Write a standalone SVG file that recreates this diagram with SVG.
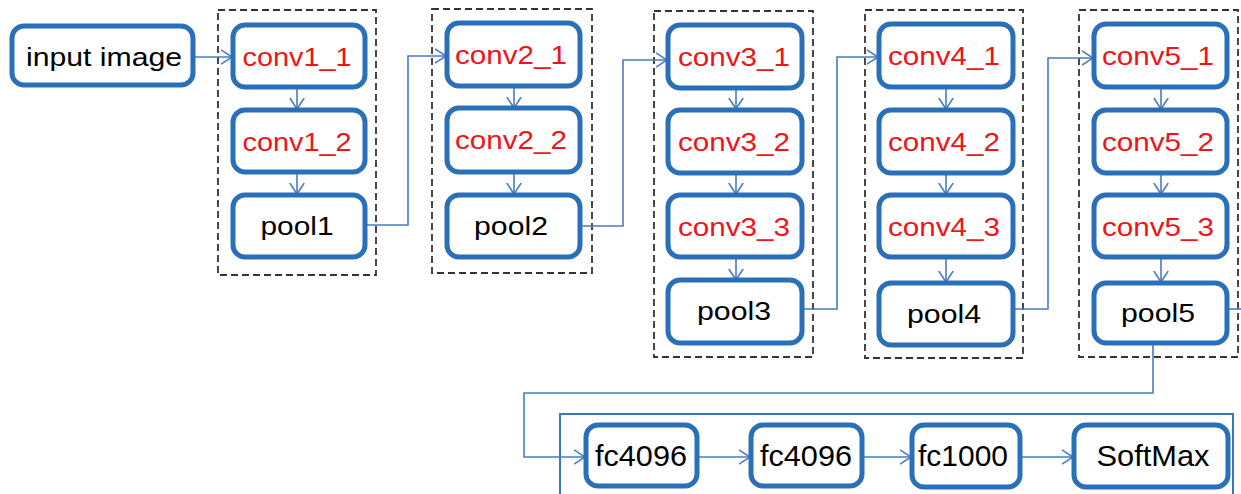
<svg xmlns="http://www.w3.org/2000/svg" width="1241" height="494" viewBox="0 0 1241 494">
  <defs>
    <style>
      .node { fill: #ffffff; stroke: #2a70b8; stroke-width: 5; }
      .group { fill: none; stroke: #333333; stroke-width: 1.8; stroke-dasharray: 7 4; }
      .wire { fill: none; stroke: #4a7cc0; stroke-width: 1.6; }
      .frame { fill: none; stroke: #3d74c4; stroke-width: 2; }
      .lbl { font-family: "Liberation Sans", Arial, sans-serif; font-size: 25px; text-anchor: middle; }
      .fc { font-family: "Liberation Sans", Arial, sans-serif; font-size: 30px; text-anchor: middle; fill: #000000; }
      .red { fill: #f01418; }
      .blk { fill: #000000; }
    </style>
    <marker id="arrow" viewBox="0 0 12 16" refX="11.5" refY="8" markerWidth="12" markerHeight="16" markerUnits="userSpaceOnUse" orient="auto">
      <path d="M0.5,0.8 L11.5,8 L0.5,15.2" fill="none" stroke="#4a7cc0" stroke-width="1.6"/>
    </marker>
  </defs>

  <rect width="1241" height="494" fill="#ffffff"/>

  <!-- dashed stage groups -->
  <g id="stages">
    <rect class="group" x="218" y="10" width="158" height="265"/>
    <rect class="group" x="432" y="9" width="160" height="264"/>
    <rect class="group" x="654" y="11" width="159" height="346"/>
    <rect class="group" x="865" y="10" width="158" height="348"/>
    <rect class="group" x="1079" y="10" width="159" height="347"/>
  </g>

  <!-- frame around the classifier row -->
  <rect id="fc-frame" class="frame" x="560" y="414" width="673" height="100"/>

  <!-- connectors -->
  <g id="connectors">
    <path class="wire" d="M193,57 H232" marker-end="url(#arrow)"/>
    <path class="wire" d="M297,88 V109" marker-end="url(#arrow)"/>
    <path class="wire" d="M297,173 V194" marker-end="url(#arrow)"/>
    <path class="wire" d="M365,225 H408 V56 H446" marker-end="url(#arrow)"/>

    <path class="wire" d="M514,87 V108" marker-end="url(#arrow)"/>
    <path class="wire" d="M514,173 V194" marker-end="url(#arrow)"/>
    <path class="wire" d="M580,226 H623 V60 H667" marker-end="url(#arrow)"/>

    <path class="wire" d="M736,89 V109" marker-end="url(#arrow)"/>
    <path class="wire" d="M736,174 V194" marker-end="url(#arrow)"/>
    <path class="wire" d="M736,258 V280" marker-end="url(#arrow)"/>
    <path class="wire" d="M802,309 H837 V57 H878" marker-end="url(#arrow)"/>

    <path class="wire" d="M946,88 V109" marker-end="url(#arrow)"/>
    <path class="wire" d="M946,174 V194" marker-end="url(#arrow)"/>
    <path class="wire" d="M946,258 V282" marker-end="url(#arrow)"/>
    <path class="wire" d="M1013,309 H1048 V58 H1093" marker-end="url(#arrow)"/>

    <path class="wire" d="M1161,88 V109" marker-end="url(#arrow)"/>
    <path class="wire" d="M1161,174 V194" marker-end="url(#arrow)"/>
    <path class="wire" d="M1161,258 V282" marker-end="url(#arrow)"/>
    <path class="wire" d="M1227,309 H1241"/>

    <path class="wire" d="M1153,344 V393 H524 V457 H585" marker-end="url(#arrow)"/>
    <path class="wire" d="M697,457 H750" marker-end="url(#arrow)"/>
    <path class="wire" d="M862,457 H911" marker-end="url(#arrow)"/>
    <path class="wire" d="M1020,457 H1073" marker-end="url(#arrow)"/>
  </g>

  <!-- input -->
  <g id="input-image">
    <rect class="node" x="12" y="26" width="181" height="59" rx="12"/>
    <text class="lbl blk" x="104" y="66" textLength="156" lengthAdjust="spacingAndGlyphs">input image</text>
  </g>

  <!-- stage 1 -->
  <g id="conv1_1">
    <rect class="node" x="233" y="25" width="132" height="62" rx="12"/>
    <text class="lbl red" x="297" y="66" textLength="109" lengthAdjust="spacingAndGlyphs">conv1_1</text>
  </g>
  <g id="conv1_2">
    <rect class="node" x="233" y="110" width="132" height="62" rx="12"/>
    <text class="lbl red" x="297" y="151" textLength="109" lengthAdjust="spacingAndGlyphs">conv1_2</text>
  </g>
  <g id="pool1">
    <rect class="node" x="233" y="195" width="132" height="62" rx="12"/>
    <text class="lbl blk" x="297" y="235" textLength="73" lengthAdjust="spacingAndGlyphs">pool1</text>
  </g>

  <!-- stage 2 -->
  <g id="conv2_1">
    <rect class="node" x="447" y="23" width="133" height="63" rx="12"/>
    <text class="lbl red" x="511" y="64" textLength="112" lengthAdjust="spacingAndGlyphs">conv2_1</text>
  </g>
  <g id="conv2_2">
    <rect class="node" x="447" y="108" width="133" height="64" rx="12"/>
    <text class="lbl red" x="511" y="149" textLength="112" lengthAdjust="spacingAndGlyphs">conv2_2</text>
  </g>
  <g id="pool2">
    <rect class="node" x="447" y="195" width="133" height="62" rx="12"/>
    <text class="lbl blk" x="511" y="235" textLength="74" lengthAdjust="spacingAndGlyphs">pool2</text>
  </g>

  <!-- stage 3 -->
  <g id="conv3_1">
    <rect class="node" x="668" y="25" width="134" height="63" rx="12"/>
    <text class="lbl red" x="734" y="66" textLength="112" lengthAdjust="spacingAndGlyphs">conv3_1</text>
  </g>
  <g id="conv3_2">
    <rect class="node" x="668" y="110" width="134" height="63" rx="12"/>
    <text class="lbl red" x="734" y="151" textLength="112" lengthAdjust="spacingAndGlyphs">conv3_2</text>
  </g>
  <g id="conv3_3">
    <rect class="node" x="668" y="195" width="134" height="62" rx="12"/>
    <text class="lbl red" x="734" y="236" textLength="112" lengthAdjust="spacingAndGlyphs">conv3_3</text>
  </g>
  <g id="pool3">
    <rect class="node" x="668" y="280" width="134" height="63" rx="12"/>
    <text class="lbl blk" x="734" y="320" textLength="74" lengthAdjust="spacingAndGlyphs">pool3</text>
  </g>

  <!-- stage 4 -->
  <g id="conv4_1">
    <rect class="node" x="879" y="24" width="134" height="63" rx="12"/>
    <text class="lbl red" x="944" y="65" textLength="112" lengthAdjust="spacingAndGlyphs">conv4_1</text>
  </g>
  <g id="conv4_2">
    <rect class="node" x="879" y="110" width="134" height="63" rx="12"/>
    <text class="lbl red" x="944" y="151" textLength="112" lengthAdjust="spacingAndGlyphs">conv4_2</text>
  </g>
  <g id="conv4_3">
    <rect class="node" x="879" y="195" width="134" height="62" rx="12"/>
    <text class="lbl red" x="944" y="236" textLength="112" lengthAdjust="spacingAndGlyphs">conv4_3</text>
  </g>
  <g id="pool4">
    <rect class="node" x="879" y="283" width="134" height="62" rx="12"/>
    <text class="lbl blk" x="944" y="323" textLength="74" lengthAdjust="spacingAndGlyphs">pool4</text>
  </g>

  <!-- stage 5 -->
  <g id="conv5_1">
    <rect class="node" x="1094" y="24" width="133" height="63" rx="12"/>
    <text class="lbl red" x="1158" y="65" textLength="112" lengthAdjust="spacingAndGlyphs">conv5_1</text>
  </g>
  <g id="conv5_2">
    <rect class="node" x="1094" y="110" width="133" height="63" rx="12"/>
    <text class="lbl red" x="1158" y="151" textLength="112" lengthAdjust="spacingAndGlyphs">conv5_2</text>
  </g>
  <g id="conv5_3">
    <rect class="node" x="1094" y="195" width="133" height="62" rx="12"/>
    <text class="lbl red" x="1158" y="236" textLength="112" lengthAdjust="spacingAndGlyphs">conv5_3</text>
  </g>
  <g id="pool5">
    <rect class="node" x="1094" y="283" width="133" height="60" rx="12"/>
    <text class="lbl blk" x="1158" y="322" textLength="74" lengthAdjust="spacingAndGlyphs">pool5</text>
  </g>

  <!-- classifier -->
  <g id="fc6">
    <rect class="node" x="586" y="425" width="111" height="61" rx="12"/>
    <text class="fc" x="641" y="466" textLength="92" lengthAdjust="spacingAndGlyphs">fc4096</text>
  </g>
  <g id="fc7">
    <rect class="node" x="751" y="425" width="111" height="61" rx="12"/>
    <text class="fc" x="806" y="466" textLength="92" lengthAdjust="spacingAndGlyphs">fc4096</text>
  </g>
  <g id="fc8">
    <rect class="node" x="912" y="425" width="108" height="62" rx="12"/>
    <text class="fc" x="963" y="466" textLength="90" lengthAdjust="spacingAndGlyphs">fc1000</text>
  </g>
  <g id="softmax">
    <rect class="node" x="1074" y="425" width="154" height="62" rx="12"/>
    <text class="fc" x="1153" y="466" textLength="113" lengthAdjust="spacingAndGlyphs">SoftMax</text>
  </g>
</svg>
